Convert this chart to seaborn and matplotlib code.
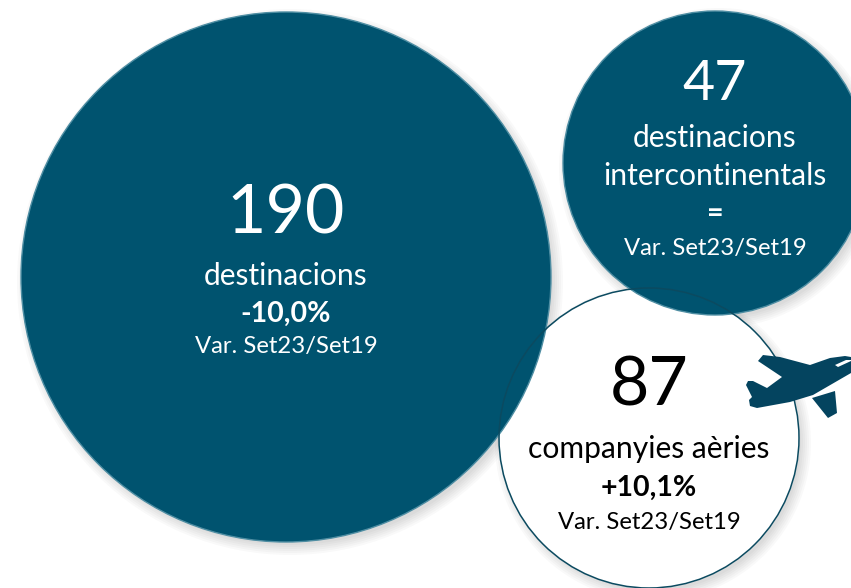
import pandas as pd
import seaborn as sns
import matplotlib.pyplot as plt

# bubbles, pixel positions
names = ["destinacions", "intercontinentals", "companyies"]
bubble_x = [286, 715, 649]
bubble_y = [277, 163, 438]
radius = [265, 152, 150]

numbers = ["190", "47", "87"]
number_y = [214, 85, 386]
number_size = [49, 40, 49]
labels = ["destinacions", "destinacions\nintercontinentals", "companyies aèries"]
label_y = [276, 157, 449]
changes = ["-10,0%", "=", "+10,1%"]
change_y = [314, 214, 488]
period = "Var. Set23/Set19"
period_y = [347, 249, 522]

DARK = "#00536f"
W, H, DPI = 851, 588, 100

sns.set_theme(style="white")
plt.rcParams["font.family"] = ["Lato", "DejaVu Sans"]

df = pd.DataFrame({"name": names, "x": bubble_x, "y": bubble_y, "r": radius})
df["area"] = (2 * df["r"] * 72 / DPI) ** 2
sizes = dict(zip(df["name"], df["area"]))

fig = plt.figure(figsize=(W / DPI, H / DPI), dpi=DPI)
ax = fig.add_axes([0, 0, 1, 1])

# soft shadow, a stack of faint offset circles
for grow in [8, 6, 4, 2, 0, -2]:
    shadow = df.assign(x=df["x"] + 4, y=df["y"] + 5, area=(2 * (df["r"] + grow) * 72 / DPI) ** 2)
    sns.scatterplot(data=shadow, x="x", y="y", size="name", legend=False, ax=ax,
                    sizes=dict(zip(shadow["name"], shadow["area"])),
                    color="black", alpha=0.025, linewidth=0, zorder=1)

# white circle covers its shadow first, the teal ones then show through it
sns.scatterplot(data=df[df["name"] == "companyies"], x="x", y="y", size="name", sizes=sizes,
                legend=False, ax=ax, color="white", linewidth=0, zorder=2)
sns.scatterplot(data=df[df["name"] != "companyies"], x="x", y="y", size="name", sizes=sizes,
                legend=False, ax=ax, color=DARK, edgecolor="#4f8ea3", linewidth=1.0, zorder=3)
ring = df[df["name"] == "companyies"]
ax.scatter(ring["x"], ring["y"], s=ring["area"], facecolors="none", edgecolors="#0b4a60",
           linewidths=1.1, zorder=4)

# plane
body_x = [758, 763, 780, 810, 830, 845, 851, 851, 813, 790, 757, 750, 749, 752, 746, 748, 753, 767, 782]
body_y = [361, 355, 357, 365, 358, 356, 357, 373, 395, 402, 408, 406, 400, 397, 385, 381, 381, 388, 377]
wing_x = [812, 835, 837, 828]
wing_y = [398, 391, 413, 418]
ax.fill(body_x, body_y, color="#04445f", lw=0, zorder=5)
ax.fill(wing_x, wing_y, color="#04445f", lw=0, zorder=5)
ax.fill([835, 846, 851, 851, 838], [365, 360, 360, 361, 367], color="white", lw=0, zorder=6)

text_colors = ["white", "white", "black"]
for i in range(3):
    c = text_colors[i]
    cx = bubble_x[i]
    ax.text(cx, number_y[i], numbers[i], color=c, fontsize=number_size[i], ha="center", va="center", zorder=7)
    ax.text(cx, label_y[i], labels[i], color=c, fontsize=21.6, ha="center", va="center",
            linespacing=1.45, zorder=7)
    ax.text(cx, change_y[i], changes[i], color=c, fontsize=20.5, fontweight="bold", ha="center",
            va="center", zorder=7)
    ax.text(cx, period_y[i], period, color=c, fontsize=17.2, ha="center", va="center", zorder=7)

ax.set_xlim(0, W)
ax.set_ylim(H, 0)
ax.axis("off")
fig.savefig("out.png", dpi=DPI, facecolor="white")
